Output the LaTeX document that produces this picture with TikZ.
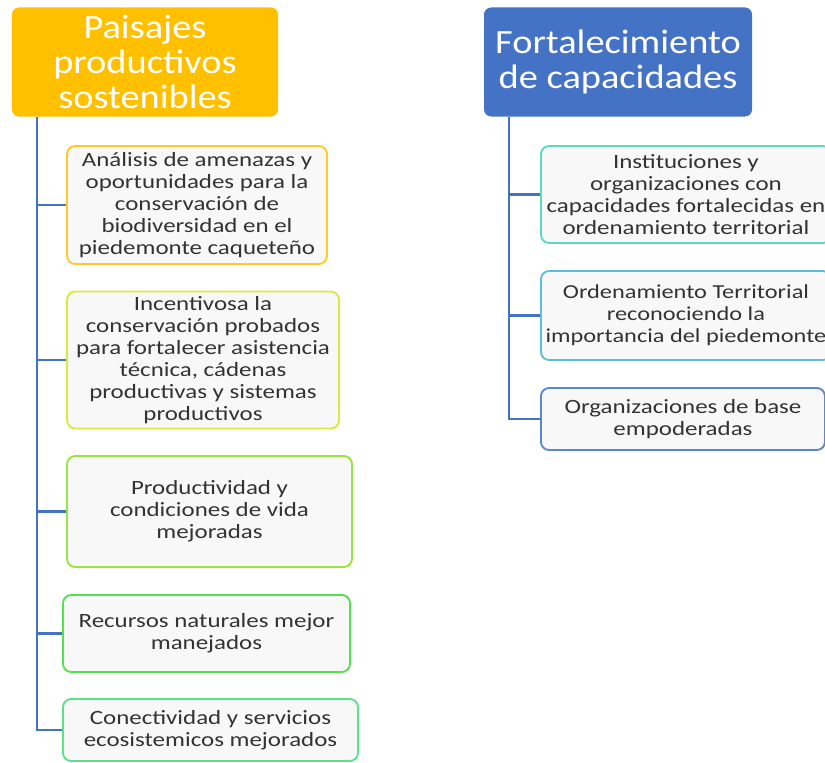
\documentclass[tikz,border=0pt]{standalone}
\usepackage{fontspec}
\setmainfont{Carlito}
\newfontfamily\fuentecaja{Carlito}[FakeStretch=1.23]
\newfontfamily\fuentetitulo{Carlito}[FakeStretch=1.13]
\usetikzlibrary{positioning}

\definecolor{amarillo}{HTML}{FFC000}
\definecolor{azul}{HTML}{4472C4}
\definecolor{fondo}{HTML}{F8F8F8}
\definecolor{texto}{HTML}{333333}

\tikzstyle{titulo} = [rectangle, rounded corners=6pt,
text=white,
align=center,
font=\fuentetitulo\fontsize{29}{29.8}\selectfont]
\tikzstyle{caja} = [rectangle, rounded corners=7pt,
line width=1.6pt,
inner xsep=1pt,
fill=fondo,
text=texto,
align=center,
font=\fuentecaja\fontsize{17.3}{18.7}\selectfont]
\tikzstyle{linea} = [azul, line width=2pt]

\begin{document}
\begin{tikzpicture}[x=0.03cm, y=-0.03cm]

\useasboundingbox (0,0) rectangle (825,762);

\node (tit1) [titulo, fill=amarillo, minimum width=7.98cm, minimum height=3.27cm] at (145,62) {Paisajes\\productivos\\sostenibles};
\node (tit2) [titulo, fill=azul, minimum width=8.04cm, minimum height=3.27cm] at (618,62) {Fortalecimiento\\de capacidades};

% columna izquierda
\node (caja1) [caja, draw=amarillo!85!white, minimum width=7.8cm, minimum height=3.54cm] at (197,205) {An\'alisis de amenazas y\\oportunidades para la\\conservaci\'on de\\biodiversidad en el\\piedemonte caquete\~no};
\node (caja2) [caja, draw={rgb,255:red,217;green,234;blue,60}, minimum width=8.16cm, minimum height=4.11cm] at (203,360) {Incentivosa la\\conservaci\'on probados\\para fortalecer asistencia\\t\'ecnica, c\'adenas\\productivas y sistemas\\productivos};
\node (caja3) [caja, draw={rgb,255:red,155;green,227;blue,66}, minimum width=8.55cm, minimum height=3.33cm] at (209.5,511.5) {Productividad y\\condiciones de vida\\mejoradas};
\node (caja4) [caja, draw={rgb,255:red,85;green,224;blue,79}, minimum width=8.61cm, minimum height=2.31cm] at (206.5,633.5) {Recursos naturales mejor\\manejados};
\node (caja5) [caja, draw={rgb,255:red,94;green,224;blue,138}, minimum width=8.85cm, minimum height=1.86cm] at (210.5,730) {Conectividad y servicios\\ecosistemicos mejorados};

% columna derecha
\node (cajaB1) [caja, anchor=west, draw={rgb,255:red,91;green,217;blue,195}, minimum width=8.7cm, minimum height=2.91cm] at (540,194.5) {Instituciones y\\organizaciones con\\capacidades fortalecidas en\\ordenamiento territorial};
\node (cajaB2) [caja, anchor=west, draw={rgb,255:red,91;green,191;blue,218}, minimum width=8.7cm, minimum height=2.67cm, font=\fuentecaja\fontsize{16.9}{18.7}\selectfont] at (540,315.5) {Ordenamiento Territorial\\reconociendo la\\importancia del piedemonte};
\node (cajaB3) [caja, anchor=west, draw={rgb,255:red,91;green,134;blue,208}, minimum width=8.52cm, minimum height=1.86cm] at (540,419) {Organizaciones de base\\empoderadas};

\coordinate (eje1) at (37,117);
\coordinate (eje2) at (509,117);

\draw [linea] (eje1) |- (caja1.west);
\draw [linea] (eje1) |- (caja2.west);
\draw [linea] (eje1) |- (caja3.west);
\draw [linea] (eje1) |- (caja4.west);
\draw [linea] (eje1) |- (caja5.west);

\draw [linea] (eje2) |- (cajaB1.west);
\draw [linea] (eje2) |- (cajaB2.west);
\draw [linea] (eje2) |- (cajaB3.west);

\end{tikzpicture}
\end{document}
